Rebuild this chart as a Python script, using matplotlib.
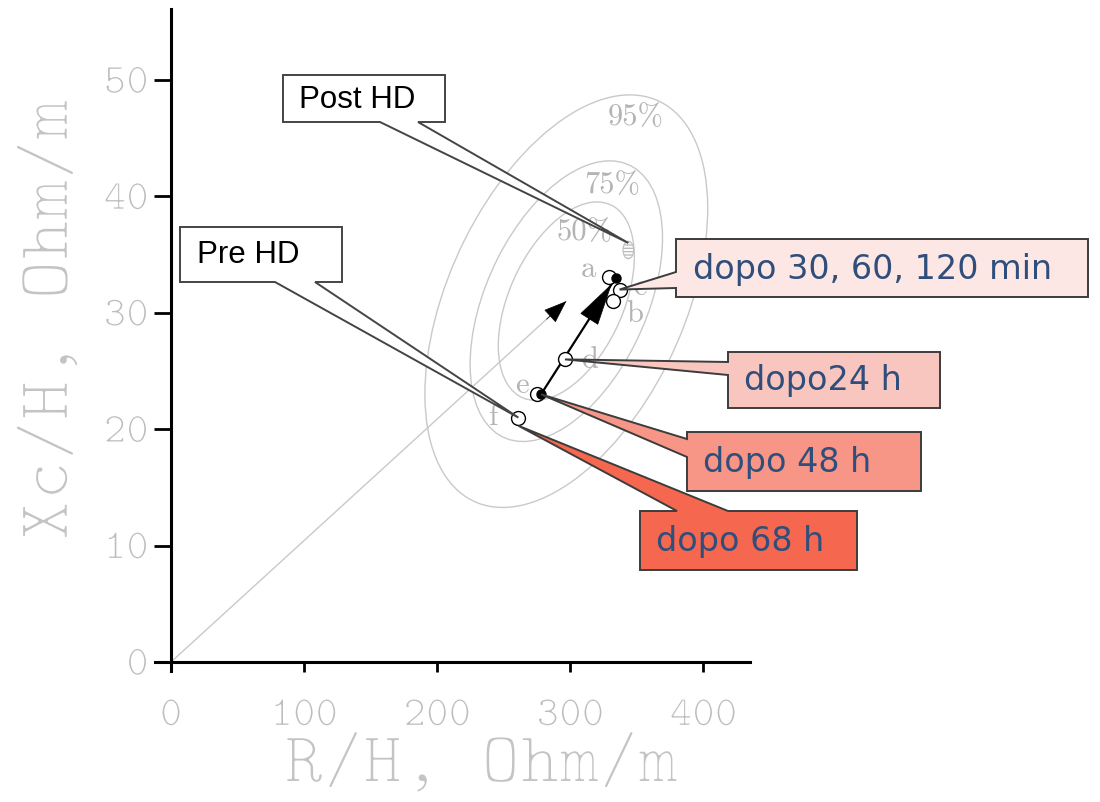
import numpy as np
import matplotlib
matplotlib.use("Agg")
import matplotlib.pyplot as plt
import matplotlib.patheffects as pe
from matplotlib.patches import Ellipse, Polygon

# --- data ---
# measured points (open circles) a..f
pt_labels = ["a", "c", "b", "d", "e", "f"]
pt_r = [329, 337, 332, 296, 275, 261]
pt_xc = [33.1, 32.0, 31.0, 26.0, 23.0, 21.0]
# label offsets in points
lab_dx = [-15, 15, 16, 18, -11, -18]
lab_dy = [6, 2, -9, 0, 7, 1]

# filled points joined by the black vector
vec_r = [278, 334]
vec_xc = [23.0, 33.0]

# post HD marker
post_r, post_xc = 343.6, 35.4

# reference population (tolerance ellipses)
ref_mean = (297.0, 31.0)
ref_sd = (43.4, 7.24)
ref_corr = 0.45
levels = [0.50, 0.75, 0.95]
level_text = ["50%", "75%", "95%"]
level_pos = [(311, 37.0), (331.6, 41.0), (349.5, 46.9)]

x_ticks = [0, 100, 200, 300, 400]
y_ticks = [0, 10, 20, 30, 40, 50]

plt.rcParams["font.family"] = "cmtt10"

W, H = 1100, 803
fig = plt.figure(figsize=(W / 100, H / 100), dpi=100)
ax = fig.add_axes([155 / W, 1 - 672 / H, 595 / W, 662 / H])
ax.set_xlim(-12, 435)
ax.set_ylim(-0.77, 56.1)

gray = "#c9c9c9"
lab_gray = "#b4b4b4"

# tolerance ellipses
cov = np.array([[ref_sd[0] ** 2, ref_corr * ref_sd[0] * ref_sd[1]],
                [ref_corr * ref_sd[0] * ref_sd[1], ref_sd[1] ** 2]])
vals, vecs = np.linalg.eigh(cov)
ang = np.degrees(np.arctan2(vecs[1, 1], vecs[0, 1]))
for p, t, pos in zip(levels, level_text, level_pos):
    k = np.sqrt(-2 * np.log(1 - p))
    e = Ellipse(ref_mean, 2 * k * np.sqrt(vals[1]), 2 * k * np.sqrt(vals[0]),
                angle=ang, fill=False, edgecolor=gray, lw=1.0, zorder=1)
    ax.add_patch(e)
    ax.text(pos[0], pos[1], t, family="cmr10", fontsize=22, color=lab_gray,
            ha="center", va="center", zorder=2)

# mean vector from origin
ax.plot([0, ref_mean[0]], [0, ref_mean[1]], color=gray, lw=1.0, zorder=1)
ax.annotate("", xy=ref_mean, xytext=(ref_mean[0] * 0.95, ref_mean[1] * 0.95),
            arrowprops=dict(arrowstyle="-|>,head_length=0.75,head_width=0.28",
                            color="black", lw=0.5, mutation_scale=20,
                            shrinkA=0, shrinkB=0), zorder=3)

# post HD hatched marker
ax.add_patch(Ellipse((post_r, post_xc), 8, 1.5, fill=False, edgecolor="#bdbdbd",
                     hatch="-----", lw=0.8, zorder=2))

# black vector with big arrow head
ax.plot(vec_r, vec_xc, color="black", lw=1.6, zorder=3)
dx, dy = vec_r[1] - vec_r[0], vec_xc[1] - vec_xc[0]
ax.annotate("", xy=(vec_r[0] + 0.95 * dx, vec_xc[0] + 0.95 * dy),
            xytext=(vec_r[0] + 0.70 * dx, vec_xc[0] + 0.70 * dy),
            arrowprops=dict(arrowstyle="-|>,head_length=1.45,head_width=0.36",
                            color="black", lw=0.5, mutation_scale=20,
                            shrinkA=0, shrinkB=0), zorder=4)

ax.plot(pt_r, pt_xc, "o", ms=10, mfc="white", mec="black", mew=1.0,
        ls="none", zorder=4)
ax.plot(vec_r, vec_xc, "o", ms=6.5, color="black", ls="none", zorder=5)
for l, x, y, ox, oy in zip(pt_labels, pt_r, pt_xc, lab_dx, lab_dy):
    ax.annotate(l, (x, y), xytext=(ox, oy), textcoords="offset points",
                family="cmr10", fontsize=22, color=lab_gray,
                ha="center", va="center", zorder=2)

# axes styling
for s in ["top", "right"]:
    ax.spines[s].set_visible(False)
ax.spines["left"].set_position(("data", 0))
ax.spines["bottom"].set_position(("data", 0))
ax.spines["left"].set_linewidth(2.2)
ax.spines["bottom"].set_linewidth(2.2)
ax.set_xticks(x_ticks)
ax.set_yticks(y_ticks)
ax.tick_params(axis="x", direction="out", length=7, width=2, pad=20,
               labelsize=31, labelcolor="#bdbdbd")
ax.tick_params(axis="y", direction="out", length=12, width=2, pad=4,
               labelsize=31, labelcolor="#bdbdbd")

thin_big = [pe.Stroke(linewidth=2.2, foreground="white")]
thin_small = [pe.Stroke(linewidth=1.1, foreground="white")]
fig.text(481 / W, 1 - 769 / H, "R/H, Ohm/m", fontsize=54,
         color="#c4c4c4", ha="center", va="center", path_effects=thin_big)
fig.text(53 / W, 1 - 321 / H, "Xc/H, Ohm/m", fontsize=55,
         color="#c4c4c4", ha="center", va="center", rotation=90,
         path_effects=thin_big)


# --- speech bubble callouts (box corners in image pixels) ---
def to_fig(x, y):
    return (x / W, 1 - y / H)


def tip_px(x, y):
    d = ax.transData.transform((x, y))
    f = fig.transFigure.inverted().transform(d)
    return (f[0] * W, (1 - f[1]) * H)


def bubble(box, side, base, tip, face, edge, text, tx, font, size, tcolor):
    x0, y0, x1, y1 = box
    b1, b2 = base
    if side == "bottom":
        pts = [(x0, y0), (x1, y0), (x1, y1), (b2, y1), tip, (b1, y1), (x0, y1)]
    elif side == "left":
        pts = [(x0, y0), (x1, y0), (x1, y1), (x0, y1), (x0, b2), tip, (x0, b1)]
    else:
        pts = [(x0, y0), (b1, y0), tip, (b2, y0), (x1, y0), (x1, y1), (x0, y1)]
    poly = Polygon([to_fig(*p) for p in pts], closed=True, transform=fig.transFigure,
                   facecolor=face, edgecolor=edge, lw=1.4, zorder=10)
    fig.add_artist(poly)
    fig.text(*to_fig(tx, (y0 + y1) / 2), text, family=font, fontsize=size,
             color=tcolor, ha="left", va="center", zorder=11)


blue = "#2f4e7c"
bubble((283, 76, 445, 123), "bottom", (380, 418), tip_px(post_r, post_xc + 0.6),
       "white", "#444444", "Post HD", 299, "Liberation Sans", 22.5, "black")
bubble((180, 228, 342, 283), "bottom", (275, 315), tip_px(pt_r[5], pt_xc[5]),
       "white", "#444444", "Pre HD", 197, "Liberation Sans", 22.5, "black")
bubble((676, 240, 1088, 298), "left", (273, 289), tip_px(pt_r[1], pt_xc[1]),
       "#fde7e4", "#3c3c3c", "dopo 30, 60, 120 min", 693, "DejaVu Sans", 24, blue)
bubble((728, 353, 940, 409), "left", (363, 376), tip_px(pt_r[3], pt_xc[3]),
       "#f9c6bf", "#3c3c3c", "dopo24 h", 744, "DejaVu Sans", 24, blue)
bubble((687, 433, 921, 492), "left", (440, 458), tip_px(vec_r[0], vec_xc[0]),
       "#f79587", "#3c3c3c", "dopo 48 h", 703, "DejaVu Sans", 24, blue)
bubble((640, 512, 857, 571), "top", (677, 728), tip_px(pt_r[5], pt_xc[5] - 0.7),
       "#f5674f", "#3c3c3c", "dopo 68 h", 656, "DejaVu Sans", 24, blue)

fig.canvas.draw()
for lab in ax.get_xticklabels() + ax.get_yticklabels():
    lab.set_path_effects(thin_small)

fig.savefig("out.png", dpi=100, facecolor="white")
